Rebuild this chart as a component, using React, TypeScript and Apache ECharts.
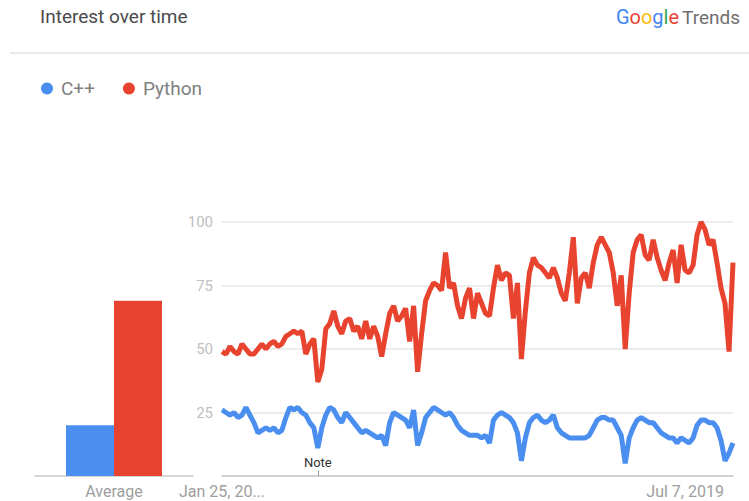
import React, { useEffect, useRef } from 'react';
import * as echarts from 'echarts';

const SERIES_NAMES = ['C++', 'Python'];
const BAR_CATEGORIES = ['Average'];
const AVERAGES = [20, 69];

const CPP = [
  26, 25, 24, 25, 23, 24, 27, 24, 21, 17, 18, 19, 18, 19, 17, 18, 23, 27, 26, 27,
  25, 24, 21, 19, 11, 19, 24, 27, 26, 23, 21, 25, 23, 21, 19, 17, 18, 17, 16, 15,
  16, 12, 21, 25, 24, 23, 22, 19, 26, 12, 17, 23, 25, 27, 26, 25, 24, 25, 23, 20,
  18, 17, 16, 16, 16, 15, 16, 13, 22, 24, 25, 24, 23, 21, 17, 6, 15, 21, 23, 24,
  22, 21, 22, 24, 19, 17, 16, 15, 15, 15, 15, 15, 16, 19, 22, 23, 23, 22, 22, 19,
  16, 5, 15, 19, 22, 23, 22, 21, 21, 19, 17, 16, 15, 15, 13, 15, 14, 13, 15, 20,
  22, 22, 21, 21, 19, 14, 6, 9, 13,
];

const PYTHON = [
  49, 48, 51, 49, 48, 52, 50, 48, 48, 50, 52, 50, 52, 53, 51, 52, 55, 56, 57, 56,
  57, 48, 52, 54, 37, 42, 58, 60, 65, 59, 56, 61, 62, 57, 59, 54, 61, 54, 59, 55,
  47, 56, 64, 67, 61, 63, 66, 53, 67, 41, 56, 69, 73, 76, 75, 73, 88, 74, 76, 67,
  62, 70, 74, 62, 72, 68, 64, 63, 74, 83, 77, 80, 79, 62, 76, 46, 65, 80, 86, 83,
  82, 80, 78, 82, 78, 72, 69, 80, 94, 68, 78, 80, 74, 84, 91, 94, 91, 88, 80, 67,
  79, 50, 72, 88, 93, 95, 87, 85, 93, 86, 81, 77, 84, 89, 76, 91, 81, 80, 83, 95,
  100, 97, 91, 93, 84, 74, 68, 49, 84,
];

const START_DATE = Date.UTC(2015, 0, 25);
const STEP_DAYS = 14;
const MONTHS = ['Jan', 'Feb', 'Mar', 'Apr', 'May', 'Jun', 'Jul', 'Aug', 'Sep', 'Oct', 'Nov', 'Dec'];
const CATEGORIES = CPP.map((_, i) => {
  const d = new Date(START_DATE + i * STEP_DAYS * 86400000);
  return `${MONTHS[d.getUTCMonth()]} ${d.getUTCDate()}, ${d.getUTCFullYear()}`;
});
const X_TICK_LABELS: Record<number, string> = { 0: 'Jan 25, 20...', 116: 'Jul 7, 2019' };
const NOTE_INDEX = 24;
const NOTE_TEXT = 'Note';

const BLUE = '#4A8FEF';
const RED = '#E8432F';
const FONT = 'Roboto, "Noto Sans", sans-serif';

export default function App() {
  const ref = useRef<HTMLDivElement>(null);
  useEffect(() => {
    if (!ref.current) return;
    const chart = echarts.init(ref.current, undefined, { renderer: 'svg' });
    const axisLineStyle = { color: '#c9c9c9', width: 1.5 };
    chart.setOption({
      animation: false,
      backgroundColor: '#ffffff',
      textStyle: { fontFamily: FONT },
      legend: {
        data: SERIES_NAMES,
        icon: 'circle',
        left: 36,
        top: 74,
        itemWidth: 12,
        itemHeight: 12,
        itemGap: 28,
        textStyle: { color: '#808080', fontSize: 19, fontFamily: FONT, padding: [0, 0, 0, 3] },
      },
      graphic: [
        {
          type: 'text',
          left: 40,
          top: 7,
          style: { text: 'Interest over time', fontSize: 19, fill: '#4a4a4a', fontFamily: FONT },
        },
        {
          type: 'text',
          right: 9,
          top: 7,
          style: {
            text: '{b|G}{r|o}{y|o}{b|g}{g|l}{r|e} {t|Trends}',
            fontFamily: FONT,
            rich: {
              b: { fill: '#4285F4', fontSize: 20, fontFamily: FONT },
              r: { fill: '#EA4335', fontSize: 20, fontFamily: FONT },
              y: { fill: '#FBBC05', fontSize: 20, fontFamily: FONT },
              g: { fill: '#34A853', fontSize: 20, fontFamily: FONT },
              t: { fill: '#6f6f6f', fontSize: 19, fontFamily: FONT },
            },
          },
        },
        {
          type: 'line',
          shape: { x1: 10, y1: 53, x2: 749, y2: 53 },
          style: { stroke: '#e2e2e2', lineWidth: 1.5 },
        },
      ],
      grid: [
        { left: 35, width: 158, top: 222, bottom: 25 },
        { left: 222, right: 16, top: 222, bottom: 25 },
      ],
      xAxis: [
        {
          gridIndex: 0,
          type: 'category',
          data: BAR_CATEGORIES,
          axisTick: { show: false },
          axisLine: { lineStyle: axisLineStyle },
          axisLabel: { color: '#9e9e9e', fontSize: 16, margin: 7, fontFamily: FONT },
        },
        {
          gridIndex: 1,
          type: 'category',
          data: CATEGORIES,
          boundaryGap: false,
          axisTick: { show: false },
          axisLine: { lineStyle: axisLineStyle },
          axisLabel: {
            color: '#9e9e9e',
            fontSize: 16,
            margin: 7,
            fontFamily: FONT,
            interval: (idx: number) => X_TICK_LABELS[idx] !== undefined,
            formatter: (_v: string, idx: number) => X_TICK_LABELS[idx] ?? '',
          },
        },
      ],
      yAxis: [
        { gridIndex: 0, type: 'value', min: 0, max: 100, show: false },
        {
          gridIndex: 1,
          type: 'value',
          min: 0,
          max: 100,
          interval: 25,
          axisLine: { show: false },
          axisTick: { show: false },
          splitLine: { lineStyle: { color: '#e6e6e6', width: 1.5 } },
          axisLabel: {
            color: '#c0c0c0',
            fontSize: 15,
            margin: 9,
            fontFamily: FONT,
            formatter: (v: number) => (v === 0 ? '' : String(v)),
          },
        },
      ],
      series: [
        {
          name: SERIES_NAMES[0],
          type: 'bar',
          xAxisIndex: 0,
          yAxisIndex: 0,
          data: [AVERAGES[0]],
          barWidth: 48,
          barGap: '0%',
          itemStyle: { color: BLUE },
        },
        {
          name: SERIES_NAMES[1],
          type: 'bar',
          xAxisIndex: 0,
          yAxisIndex: 0,
          data: [AVERAGES[1]],
          barWidth: 48,
          barGap: '0%',
          itemStyle: { color: RED },
        },
        {
          name: SERIES_NAMES[0],
          type: 'line',
          xAxisIndex: 1,
          yAxisIndex: 1,
          data: CPP,
          showSymbol: false,
          itemStyle: { color: BLUE },
          lineStyle: { color: BLUE, width: 5 },
          markPoint: {
            symbol: 'circle',
            symbolSize: 1,
            itemStyle: { color: 'rgba(0,0,0,0)' },
            label: { show: true, formatter: NOTE_TEXT, color: '#333', fontSize: 13, fontFamily: FONT, position: 'inside' },
            data: [{ coord: [CATEGORIES[NOTE_INDEX], 5.5] }],
          },
          markLine: {
            symbol: 'none',
            silent: true,
            label: { show: false },
            lineStyle: { color: '#999', width: 1, type: 'solid' },
            data: [[{ coord: [CATEGORIES[NOTE_INDEX], 0] }, { coord: [CATEGORIES[NOTE_INDEX], 2.2] }]],
          },
        },
        {
          name: SERIES_NAMES[1],
          type: 'line',
          xAxisIndex: 1,
          yAxisIndex: 1,
          data: PYTHON,
          showSymbol: false,
          itemStyle: { color: RED },
          lineStyle: { color: RED, width: 5 },
        },
      ],
    });
    return () => chart.dispose();
  }, []);
  return <div ref={ref} style={{ position: 'fixed', left: 0, top: 0, width: 749, height: 501 }} />;
}
